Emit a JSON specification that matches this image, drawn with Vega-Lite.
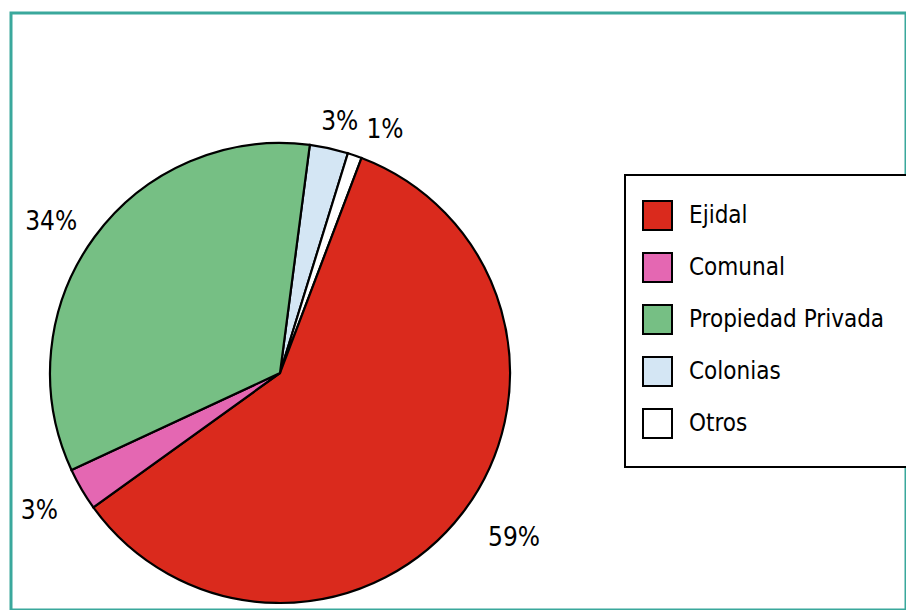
{
  "$schema": "https://vega.github.io/schema/vega-lite/v6.json",
  "width": 895,
  "height": 597,
  "autosize": {"type": "none"},
  "padding": {"left": 11, "top": 13, "right": 0, "bottom": 0},
  "background": "white",
  "view": {"stroke": "#3aa89c", "strokeWidth": 3},
  "config": {"view": {"stroke": "#3aa89c", "strokeWidth": 3}, "font": "DejaVu Sans Condensed", "legend": {"strokeWidth": 2}},
  "data": {"values": [
    {"category": "Colonias", "value": 2.7, "label": "3%", "order": 1},
    {"category": "Otros", "value": 1.0, "label": "1%", "order": 2},
    {"category": "Ejidal", "value": 59.3, "label": "59%", "order": 3},
    {"category": "Comunal", "value": 3.0, "label": "3%", "order": 4},
    {"category": "Propiedad Privada", "value": 34.0, "label": "34%", "order": 5}
  ]},
  "layer": [
    {
      "mark": {"type": "arc", "x": 269, "y": 360, "outerRadius": 230, "stroke": "black", "strokeWidth": 2.2},
      "encoding": {
        "theta": {"field": "value", "type": "quantitative", "stack": true, "scale": {"range": [0.13, 6.4132]}},
        "order": {"field": "order", "type": "quantitative"},
        "color": {
          "field": "category",
          "type": "nominal",
          "scale": {
            "domain": ["Ejidal", "Comunal", "Propiedad Privada", "Colonias", "Otros"],
            "range": ["#da2a1d", "#e467b2", "#76bf84", "#d4e6f4", "#ffffff"]
          },
          "legend": {
            "title": null,
            "orient": "none",
            "legendX": 614,
            "legendY": 162,
            "strokeColor": "black",
            "fillColor": "white",
            "padding": 25,
            "symbolType": "square",
            "symbolSize": 841,
            "symbolStrokeColor": "black",
            "symbolStrokeWidth": 2,
            "symbolOpacity": 1,
            "symbolOffset": -8,
            "labelFontSize": 24,
            "labelFont": "DejaVu Sans Condensed",
            "labelColor": "black",
            "labelOffset": 16,
            "labelLimit": 400,
            "rowPadding": 15
          }
        }
      }
    },
    {
      "mark": {"type": "text", "x": 269, "y": 360, "radius": 280, "dx": 12, "dy": -5, "fontSize": 26, "font": "DejaVu Sans Condensed", "color": "black"},
      "encoding": {
        "theta": {"field": "value", "type": "quantitative", "stack": true},
        "order": {"field": "order", "type": "quantitative"},
        "text": {"condition": {"test": "datum.category === 'Ejidal'", "field": "label"}, "value": ""}
      }
    },
    {
      "mark": {"type": "text", "x": 269, "y": 360, "radius": 280, "dx": -3, "dy": 15, "fontSize": 26, "font": "DejaVu Sans Condensed", "color": "black"},
      "encoding": {
        "theta": {"field": "value", "type": "quantitative", "stack": true},
        "order": {"field": "order", "type": "quantitative"},
        "text": {"condition": {"test": "datum.category === 'Propiedad Privada'", "field": "label"}, "value": ""}
      }
    },
    {
      "mark": {"type": "text", "x": 269, "y": 360, "radius": 280, "dx": 1, "dy": -3, "fontSize": 26, "font": "DejaVu Sans Condensed", "color": "black"},
      "encoding": {
        "theta": {"field": "value", "type": "quantitative", "stack": true},
        "order": {"field": "order", "type": "quantitative"},
        "text": {"condition": {"test": "datum.category === 'Comunal'", "field": "label"}, "value": ""}
      }
    },
    {
      "mark": {"type": "text", "x": 269, "y": 360, "radius": 280, "dx": 0, "dy": 23, "fontSize": 26, "font": "DejaVu Sans Condensed", "color": "black"},
      "encoding": {
        "theta": {"field": "value", "type": "quantitative", "stack": true},
        "order": {"field": "order", "type": "quantitative"},
        "text": {"condition": {"test": "datum.category === 'Colonias'", "field": "label"}, "value": ""}
      }
    },
    {
      "mark": {"type": "text", "x": 269, "y": 360, "radius": 280, "dx": 14, "dy": 22, "fontSize": 26, "font": "DejaVu Sans Condensed", "color": "black"},
      "encoding": {
        "theta": {"field": "value", "type": "quantitative", "stack": true},
        "order": {"field": "order", "type": "quantitative"},
        "text": {"condition": {"test": "datum.category === 'Otros'", "field": "label"}, "value": ""}
      }
    }
  ]
}
